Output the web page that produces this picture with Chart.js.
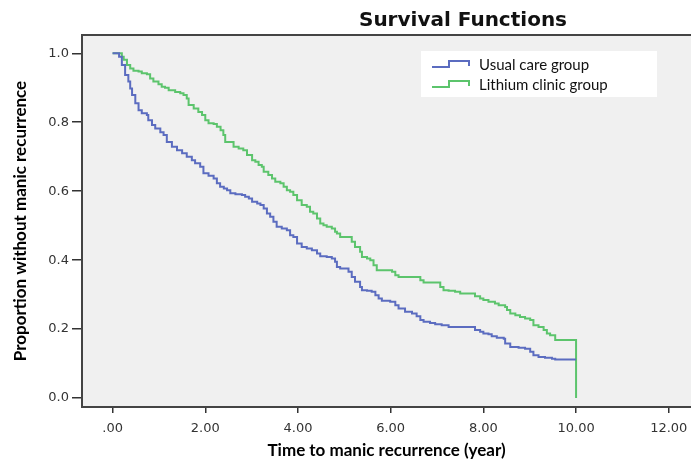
<!DOCTYPE html>
<html>
<head>
<meta charset="utf-8">
<script src="https://cdn.jsdelivr.net/npm/chart.js@4.4.1/dist/chart.umd.min.js"></script>
<style>
  html, body { margin: 0; padding: 0; background: #fff; }
  #wrap { width: 691px; height: 461px; }
</style>
</head>
<body>
<div id="wrap"><canvas id="myChart" width="691" height="461"></canvas></div>
<script>
// time (years) where each step lands, and the survival after it
var usualTimes = [0, 0.14, 0.20, 0.27, 0.34, 0.38, 0.42, 0.49, 0.56, 0.63, 0.74, 0.77, 0.85, 0.92, 1.03, 1.10,
    1.17, 1.28, 1.39, 1.50, 1.60, 1.71, 1.78, 1.89, 1.96, 2.07, 2.18, 2.25, 2.32, 2.40, 2.47, 2.54, 2.65, 2.79,
    2.86, 2.94, 3.01, 3.12, 3.19, 3.26, 3.33, 3.40, 3.47, 3.54, 3.65, 3.76, 3.83, 3.90, 3.98, 4.08, 4.19, 4.30,
    4.41, 4.48, 4.62, 4.73, 4.80, 4.84, 4.91, 5.09, 5.16, 5.23, 5.34, 5.38, 5.49, 5.59, 5.67, 5.74, 5.81, 5.99,
    6.10, 6.17, 6.31, 6.46, 6.56, 6.64, 6.71, 6.85, 6.96, 7.10, 7.25, 7.82, 7.93, 8.00, 8.11, 8.18, 8.29, 8.44,
    8.47, 8.58, 8.76, 8.90, 9.01, 9.08, 9.19, 9.33, 9.48, 9.55, 10.0]
var usualSurv = [1.0, 0.99, 0.966, 0.937, 0.918, 0.898, 0.879, 0.855, 0.835, 0.826, 0.821, 0.806, 0.792, 0.782,
    0.771, 0.763, 0.743, 0.729, 0.719, 0.710, 0.700, 0.690, 0.681, 0.671, 0.652, 0.645, 0.637, 0.623, 0.613,
    0.608, 0.603, 0.594, 0.591, 0.589, 0.584, 0.579, 0.569, 0.564, 0.560, 0.550, 0.535, 0.526, 0.511, 0.497,
    0.492, 0.487, 0.472, 0.467, 0.448, 0.438, 0.434, 0.429, 0.419, 0.411, 0.409, 0.405, 0.395, 0.380, 0.376,
    0.366, 0.351, 0.337, 0.322, 0.313, 0.311, 0.308, 0.298, 0.289, 0.282, 0.279, 0.269, 0.260, 0.250, 0.245,
    0.237, 0.226, 0.221, 0.218, 0.214, 0.211, 0.206, 0.197, 0.192, 0.187, 0.185, 0.179, 0.175, 0.172, 0.158,
    0.148, 0.146, 0.143, 0.134, 0.124, 0.119, 0.117, 0.114, 0.112, 0.112]

var lithiumTimes = [0, 0.20, 0.24, 0.31, 0.38, 0.45, 0.56, 0.63, 0.74, 0.81, 0.88, 0.99, 1.06, 1.13, 1.21, 1.35,
    1.46, 1.53, 1.60, 1.64, 1.75, 1.85, 1.93, 2.00, 2.07, 2.18, 2.25, 2.33, 2.39, 2.43, 2.61, 2.72, 2.82, 2.90,
    3.01, 3.08, 3.15, 3.22, 3.26, 3.36, 3.44, 3.51, 3.62, 3.69, 3.76, 3.83, 3.90, 3.98, 4.08, 4.19, 4.26, 4.33,
    4.41, 4.48, 4.55, 4.62, 4.73, 4.80, 4.84, 4.91, 5.16, 5.23, 5.34, 5.38, 5.49, 5.56, 5.63, 5.70, 6.03, 6.10,
    6.17, 6.64, 6.71, 7.07, 7.14, 7.25, 7.39, 7.50, 7.82, 7.93, 8.00, 8.11, 8.25, 8.33, 8.47, 8.51, 8.58, 8.69,
    8.79, 8.90, 9.01, 9.08, 9.19, 9.30, 9.37, 9.44, 9.55, 10.0]
var lithiumSurv = [1.0, 0.99, 0.981, 0.966, 0.956, 0.949, 0.947, 0.942, 0.939, 0.927, 0.918, 0.910, 0.903, 0.900,
    0.893, 0.888, 0.884, 0.879, 0.869, 0.850, 0.840, 0.830, 0.821, 0.806, 0.797, 0.795, 0.787, 0.777, 0.763,
    0.743, 0.729, 0.724, 0.719, 0.705, 0.690, 0.685, 0.676, 0.671, 0.656, 0.647, 0.637, 0.627, 0.623, 0.613,
    0.603, 0.598, 0.589, 0.574, 0.560, 0.555, 0.540, 0.535, 0.521, 0.506, 0.501, 0.497, 0.492, 0.482, 0.477,
    0.467, 0.453, 0.438, 0.424, 0.409, 0.405, 0.400, 0.385, 0.371, 0.366, 0.356, 0.351, 0.342, 0.335, 0.322,
    0.313, 0.311, 0.308, 0.303, 0.295, 0.289, 0.284, 0.279, 0.274, 0.269, 0.264, 0.255, 0.245, 0.240, 0.235,
    0.231, 0.226, 0.211, 0.206, 0.197, 0.187, 0.182, 0.168, 0.0]

var xTicks = [0, 2, 4, 6, 8, 10, 12]
var xTickLabels = ['.00', '2.00', '4.00', '6.00', '8.00', '10.00', '12.00']
var yTicks = [0, 0.2, 0.4, 0.6, 0.8, 1.0]
var yTickLabels = ['0.0', '0.2', '0.4', '0.6', '0.8', '1.0']

var groupNames = ['Usual care group', 'Lithium clinic group']
var chartTitle = 'Survival Functions'

function toPoints(xs, ys) {
    var pts = []
    for (var i = 0; i < xs.length; i++) pts.push({x: xs[i], y: ys[i]})
    return pts
}

// grey plot panel + frame
var panelPlugin = {
    id: 'panel',
    beforeDraw: function(chart) {
        var c = chart.ctx, a = chart.chartArea
        c.save()
        c.fillStyle = '#ffffff'
        c.fillRect(0, 0, chart.width, chart.height)
        c.fillStyle = '#f0f0f0'
        c.fillRect(a.left, a.top, a.right - a.left, a.bottom - a.top)
        c.restore()
    },
    afterDraw: function(chart) {
        var c = chart.ctx, a = chart.chartArea
        c.save()
        c.strokeStyle = '#444'
        c.lineWidth = 2
        c.beginPath()
        c.moveTo(a.right + 2, a.top)
        c.lineTo(a.left, a.top)
        c.lineTo(a.left, a.bottom)
        c.lineTo(a.right + 2, a.bottom)
        c.stroke()

        // title
        c.fillStyle = '#111'
        c.font = 'bold 20px "DejaVu Sans"'
        c.textAlign = 'center'
        c.textBaseline = 'middle'
        c.fillText(chartTitle, 463, 21)

        // legend box with step icons
        c.fillStyle = '#ffffff'
        c.fillRect(421, 51, 236, 46)
        var rows = [65, 85]
        chart.data.datasets.forEach(function(ds, i) {
            var y = rows[i]
            c.strokeStyle = ds.borderColor
            c.lineWidth = 2
            c.beginPath()
            c.moveTo(432, y + 2)
            c.lineTo(449, y + 2)
            c.lineTo(449, y - 4)
            c.lineTo(469, y - 4)
            c.lineTo(469, y + 1)
            c.stroke()
            c.fillStyle = '#111'
            c.font = '15px Lato'
            c.textAlign = 'left'
            c.textBaseline = 'middle'
            c.fillText(ds.label, 479, y)
        })
        c.restore()
    }
}

var ctx = document.getElementById('myChart')

var myChart = new Chart(ctx, {
    type: 'line',
    data: {
        datasets: [{
            label: groupNames[0],
            data: toPoints(usualTimes, usualSurv),
            borderColor: '#5b6cc0',
            borderWidth: 2,
            stepped: true,
            pointRadius: 0,
            fill: false
        }, {
            label: groupNames[1],
            data: toPoints(lithiumTimes, lithiumSurv),
            borderColor: '#5cc46c',
            borderWidth: 2,
            stepped: true,
            pointRadius: 0,
            fill: false
        }]
    },
    options: {
        responsive: false,
        animation: false,
        layout: { padding: { top: 35, left: 0, right: 0, bottom: 0 } },
        plugins: {
            legend: { display: false },
            title: { display: false },
            tooltip: { enabled: false }
        },
        scales: {
            x: {
                type: 'linear',
                min: -0.66,
                max: 12.48,
                afterBuildTicks: function(scale) {
                    scale.ticks = xTicks.map(function(v) { return {value: v} })
                },
                afterFit: function(scale) {
                    scale.height = 54
                    scale.paddingLeft = 0
                    scale.paddingRight = 0
                },
                ticks: {
                    autoSkip: false,
                    maxRotation: 0,
                    padding: 8,
                    color: '#333',
                    font: { family: 'DejaVu Sans', size: 13 },
                    callback: function(v, i) { return xTickLabels[i] }
                },
                grid: { drawOnChartArea: false, drawTicks: true, tickLength: 6, color: '#333', lineWidth: 1.5 },
                border: { display: false },
                title: {
                    display: true,
                    text: 'Time to manic recurrence (year)',
                    color: '#000',
                    font: { family: 'Lato', size: 17, weight: 'bold' },
                    padding: { top: 0, bottom: 0 }
                }
            },
            y: {
                type: 'linear',
                min: -0.026,
                max: 1.053,
                afterBuildTicks: function(scale) {
                    scale.ticks = yTicks.map(function(v) { return {value: v} })
                },
                afterFit: function(scale) {
                    scale.width = 82
                    scale.paddingTop = 0
                    scale.paddingBottom = 0
                },
                ticks: {
                    autoSkip: false,
                    padding: 3,
                    color: '#333',
                    font: { family: 'DejaVu Sans', size: 13 },
                    callback: function(v, i) { return yTickLabels[i] }
                },
                grid: { drawOnChartArea: false, drawTicks: true, tickLength: 10, color: '#333', lineWidth: 1.5 },
                border: { display: false },
                title: {
                    display: true,
                    text: 'Proportion without manic recurrence',
                    color: '#000',
                    font: { family: 'Lato', size: 17, weight: 'bold' },
                    padding: { top: 10, bottom: 0 }
                }
            }
        }
    },
    plugins: [panelPlugin]
})
</script>
</body>
</html>
